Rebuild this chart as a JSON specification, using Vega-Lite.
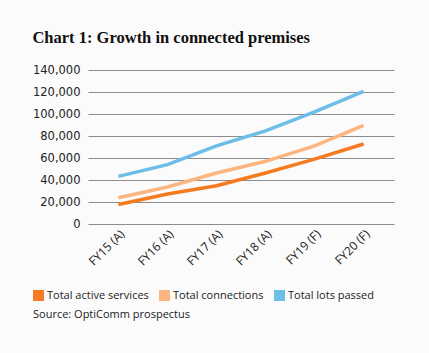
{
  "$schema": "https://vega.github.io/schema/vega-lite/v6.json",
  "width": 306,
  "height": 154,
  "autosize": {"type": "none"},
  "padding": {"left": 88, "top": 70, "right": 35, "bottom": 129},
  "background": "#fbfbfb",
  "config": {"view": {"stroke": null}},
  "title": {
    "text": "Chart 1: Growth in connected premises",
    "font": "Liberation Serif",
    "fontSize": 16.5,
    "fontWeight": "bold",
    "color": "#111111",
    "anchor": "start",
    "frame": "bounds",
    "offset": 18
  },
  "data": {
    "values": [
      {"year": "FY15 (A)", "series": "Total active services", "value": 17800},
      {"year": "FY16 (A)", "series": "Total active services", "value": 27300},
      {"year": "FY17 (A)", "series": "Total active services", "value": 34800},
      {"year": "FY18 (A)", "series": "Total active services", "value": 46400},
      {"year": "FY19 (F)", "series": "Total active services", "value": 59000},
      {"year": "FY20 (F)", "series": "Total active services", "value": 72700},
      {"year": "FY15 (A)", "series": "Total connections", "value": 23900},
      {"year": "FY16 (A)", "series": "Total connections", "value": 33600},
      {"year": "FY17 (A)", "series": "Total connections", "value": 46400},
      {"year": "FY18 (A)", "series": "Total connections", "value": 57000},
      {"year": "FY19 (F)", "series": "Total connections", "value": 71000},
      {"year": "FY20 (F)", "series": "Total connections", "value": 89600},
      {"year": "FY15 (A)", "series": "Total lots passed", "value": 43300},
      {"year": "FY16 (A)", "series": "Total lots passed", "value": 54000},
      {"year": "FY17 (A)", "series": "Total lots passed", "value": 71000},
      {"year": "FY18 (A)", "series": "Total lots passed", "value": 84700},
      {"year": "FY19 (F)", "series": "Total lots passed", "value": 102000},
      {"year": "FY20 (F)", "series": "Total lots passed", "value": 120500}
    ]
  },
  "mark": {"type": "line", "strokeWidth": 3.5, "strokeCap": "butt"},
  "encoding": {
    "x": {
      "field": "year",
      "type": "ordinal",
      "scale": {"type": "point", "padding": 0.62},
      "axis": {
        "title": null,
        "domain": false,
        "ticks": false,
        "grid": false,
        "labelAngle": -45,
        "labelFont": "Open Sans",
        "labelFontSize": 12,
        "labelColor": "#222222",
        "labelPadding": 4
      }
    },
    "y": {
      "field": "value",
      "type": "quantitative",
      "scale": {"domain": [0, 140000]},
      "axis": {
        "title": null,
        "values": [0, 20000, 40000, 60000, 80000, 100000, 120000, 140000],
        "format": ",d",
        "domain": false,
        "ticks": false,
        "grid": true,
        "gridColor": "#8c8c8c",
        "gridWidth": 1,
        "labelFont": "DejaVu Sans",
        "labelFontSize": 11.5,
        "labelColor": "#222222",
        "labelPadding": 8
      }
    },
    "color": {
      "field": "series",
      "type": "nominal",
      "scale": {
        "domain": ["Total active services", "Total connections", "Total lots passed"],
        "range": ["#F47B20", "#FDB580", "#6CBDE8"]
      },
      "legend": {
        "title": "Source: OptiComm prospectus",
        "titleOrient": "bottom",
        "titleAnchor": "start",
        "titleFont": "Open Sans",
        "titleFontSize": 11,
        "titleFontWeight": "normal",
        "titleColor": "#222222",
        "titlePadding": 8,
        "orient": "none",
        "legendX": -55,
        "legendY": 220,
        "direction": "horizontal",
        "symbolType": "square",
        "symbolSize": 121,
        "symbolStrokeWidth": 0,
        "labelFont": "Open Sans",
        "labelFontSize": 11,
        "labelColor": "#222222",
        "labelOffset": 3,
        "columnPadding": 10,
        "encode": {
          "symbols": {
            "update": {
              "fill": {"scale": "color", "field": "value"},
              "fillOpacity": {"value": 1},
              "strokeWidth": {"value": 0}
            }
          }
        }
      }
    }
  }
}
